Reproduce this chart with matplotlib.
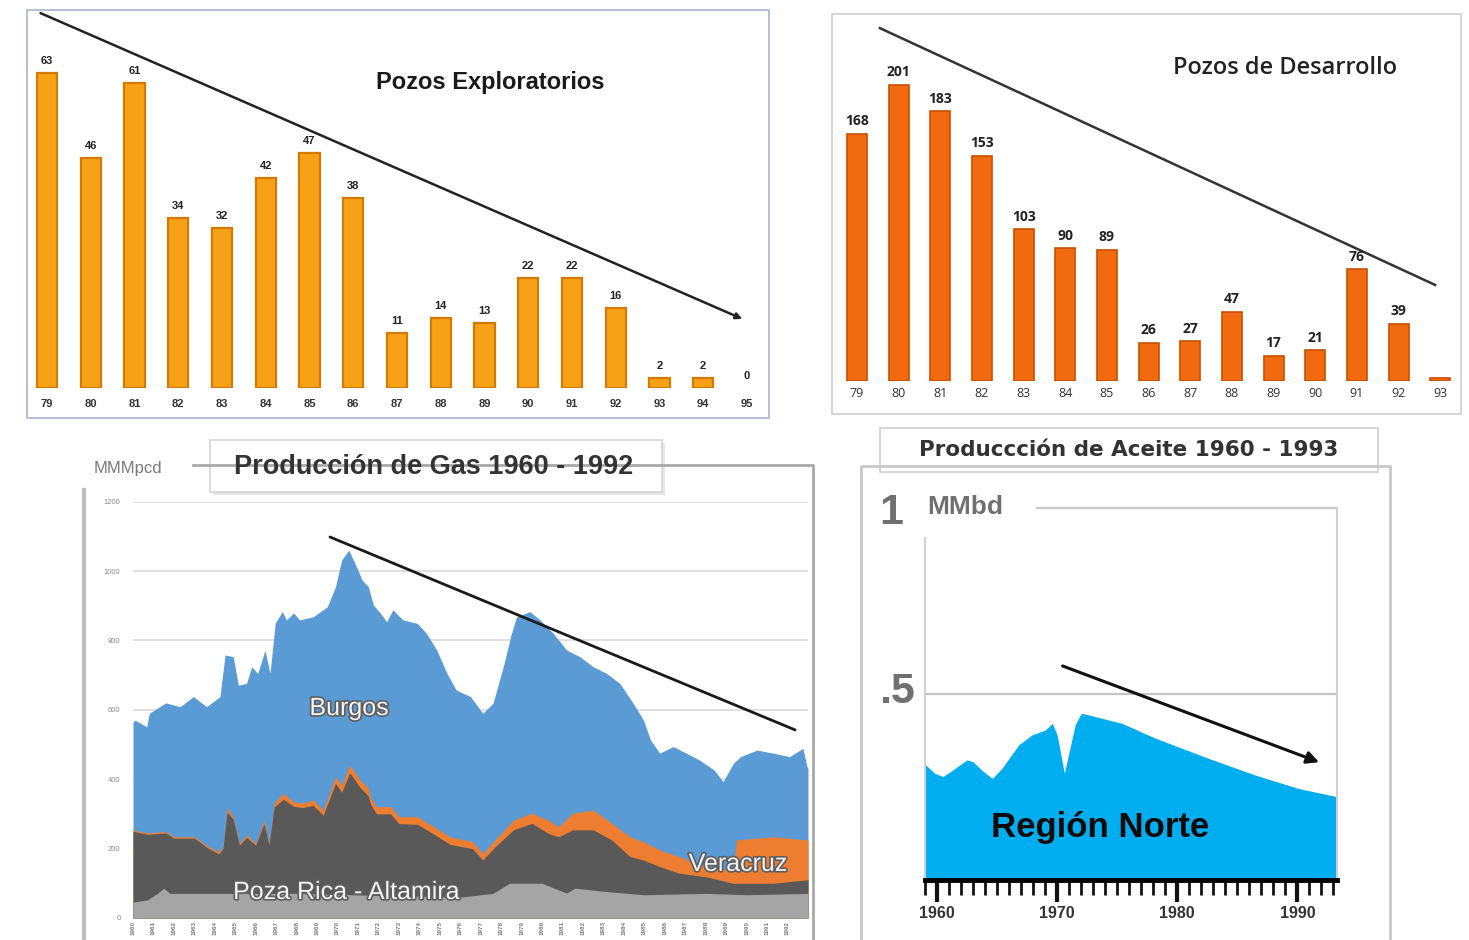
import matplotlib
matplotlib.use("Agg")
import matplotlib.pyplot as plt
import matplotlib.patheffects as pe
from matplotlib.patches import Rectangle
from matplotlib.lines import Line2D

plt.rcParams['font.family'] = ['Liberation Sans', 'DejaVu Sans']

# exploratory wells per year
expl_years = ['79', '80', '81', '82', '83', '84', '85', '86', '87', '88', '89',
              '90', '91', '92', '93', '94', '95']
expl_wells = [63, 46, 61, 34, 32, 42, 47, 38, 11, 14, 13, 22, 22, 16, 2, 2, 0]

# development wells per year (last year has no printed value)
dev_years = ['79', '80', '81', '82', '83', '84', '85', '86', '87', '88', '89',
             '90', '91', '92', '93']
dev_wells = [168, 201, 183, 153, 103, 90, 89, 26, 27, 47, 17, 21, 76, 39, 2]

# gas production, MMMpcd -- stacked boundaries (top of each band)
burgos_yr = [1960.0, 1960.1, 1960.67, 1960.8, 1961.2, 1961.6, 1962.3, 1962.95, 1963.6,
             1964.25, 1964.5, 1964.9, 1965.15, 1965.55, 1965.8, 1966.1, 1966.45,
             1966.7, 1966.95, 1967.3, 1967.5, 1967.85, 1968.15, 1968.8, 1969.5,
             1969.9, 1970.2, 1970.55, 1970.85, 1971.2, 1971.5, 1971.75, 1972.1,
             1972.4, 1972.7, 1973.2, 1973.9, 1974.35, 1974.85, 1975.35, 1975.8,
             1976.5, 1977.1, 1977.6, 1978.1, 1978.5, 1978.75, 1979.4, 1979.9,
             1980.55, 1981.2, 1981.85, 1982.5, 1983.15, 1983.8, 1984.45, 1984.95,
             1985.3, 1985.75, 1986.4, 1987.05, 1987.7, 1988.4, 1988.85, 1989.35,
             1989.7, 1990.5, 1991.3, 1992.1, 1992.75, 1992.95, 1993.0]
burgos_top = [565, 570, 551, 590, 605, 620, 609, 638, 609,
              638, 758, 753, 671, 676, 724, 705, 772,
              705, 850, 883, 859, 879, 859, 868, 897,
              955, 1032, 1060, 1022, 974, 955, 902, 878,
              854, 888, 859, 849, 820, 772, 705, 657,
              638, 590, 619, 724, 820, 868, 883, 859,
              820, 772, 753, 724, 705, 676, 619, 571,
              513, 475, 494, 475, 455, 427, 393, 446,
              465, 484, 475, 465, 489, 436, 430]

veracruz_yr = [1960.0, 1960.7, 1961.6, 1962.0, 1963.0, 1963.7, 1964.2, 1964.4, 1964.6,
               1964.9, 1965.2, 1965.55, 1966.0, 1966.4, 1966.65, 1966.9, 1967.35,
               1967.85, 1968.3, 1968.8, 1969.3, 1969.9, 1970.2, 1970.6, 1971.1,
               1971.5, 1971.6, 1971.9, 1972.6, 1973.0, 1973.9, 1974.7, 1975.5,
               1976.6, 1977.1, 1977.7, 1978.6, 1979.5, 1980.3, 1980.8, 1981.5,
               1982.5, 1983.4, 1984.3, 1984.95, 1985.75, 1986.7, 1988.0, 1989.35,
               1989.5, 1991.3, 1992.95, 1993.0]
veracruz_top = [254, 245, 249, 234, 234, 205, 191, 205, 316,
                292, 215, 239, 215, 282, 215, 331, 359,
                335, 331, 340, 311, 407, 383, 441, 398,
                374, 350, 321, 321, 292, 292, 263, 234,
                220, 186, 225, 282, 302, 282, 263, 302,
                311, 273, 234, 220, 196, 177, 148, 138,
                225, 234, 225, 225]

pozarica_yr = [1960.0, 1960.7, 1961.6, 1962.0, 1963.0, 1963.7, 1964.2, 1964.4, 1964.6,
               1964.9, 1965.2, 1965.55, 1966.0, 1966.4, 1966.65, 1966.9, 1967.35,
               1967.85, 1968.3, 1968.8, 1969.3, 1969.9, 1970.2, 1970.6, 1971.1,
               1971.5, 1971.6, 1971.9, 1972.6, 1973.0, 1973.9, 1974.7, 1975.5,
               1976.6, 1977.1, 1977.7, 1978.6, 1979.5, 1980.3, 1980.8, 1981.5,
               1982.5, 1983.4, 1984.3, 1984.95, 1985.75, 1986.7, 1988.0, 1989.35,
               1991.3, 1992.95, 1993.0]
pozarica_top = [250, 241, 245, 230, 230, 200, 185, 200, 305,
                285, 210, 232, 210, 272, 210, 320, 342,
                322, 318, 325, 296, 388, 362, 418, 376,
                352, 330, 300, 300, 272, 270, 242, 212,
                200, 167, 205, 254, 273, 244, 234, 254,
                254, 225, 177, 167, 148, 129, 119, 100,
                100, 110, 110]

otros_yr = [1960.0, 1960.7, 1961.2, 1961.5, 1961.8, 1964.0, 1968.0, 1972.0, 1976.0,
            1977.6, 1978.4, 1980.0, 1980.8, 1981.2, 1981.6, 1983.0, 1985.0, 1988.0,
            1990.0, 1993.0]
otros_top = [46, 52, 71, 86, 71, 71, 71, 65, 60,
             71, 100, 100, 81, 72, 86, 77, 67, 71,
             67, 71]

gas_ticks = list(range(1960, 1993))
gas_yticks = [0, 200, 400, 600, 800, 1000, 1200]

# oil production, Region Norte, MMbd
oil_yr = [1958.9, 1959.8, 1960.5, 1961.5, 1962.5, 1963.0, 1963.7, 1964.6, 1965.4,
          1966.8, 1967.9, 1969.0, 1969.6, 1970.0, 1970.6, 1971.5, 1972.0, 1972.6,
          1975.4, 1978.2, 1982.6, 1986.5, 1990.1, 1993.3]
oil_mmbd = [0.314, 0.287, 0.278, 0.300, 0.323, 0.318, 0.296, 0.273, 0.300,
            0.363, 0.390, 0.403, 0.421, 0.390, 0.287, 0.417, 0.448, 0.444,
            0.421, 0.381, 0.327, 0.282, 0.246, 0.224]
oil_labels = [1960, 1970, 1980, 1990]

W, H = 1469, 940
fig = plt.figure(figsize=(W / 100, H / 100), dpi=100)


def box(l, t, r, b):
    return [l / W, 1 - b / H, (r - l) / W, (b - t) / H]


def fpt(x, y):
    return x / W, 1 - y / H


def rect(l, t, r, b, **kw):
    fig.add_artist(Rectangle((l / W, 1 - b / H), (r - l) / W, (b - t) / H,
                             transform=fig.transFigure, **kw))


def line(xs, ys, **kw):
    fig.add_artist(Line2D([x / W for x in xs], [1 - y / H for y in ys],
                          transform=fig.transFigure, **kw))


# ---------- exploratory wells ----------
rect(27, 10, 769, 418, fill=False, edgecolor='#AFBAD0', lw=1.3)
ax1 = fig.add_axes(box(27, 10, 769, 388))
ax1.set_facecolor('none')
ax1.bar(range(len(expl_wells)), expl_wells, width=0.46, color='#F7A116',
        edgecolor='#D47A04', lw=[1.6 if v else 0 for v in expl_wells])
for i, v in enumerate(expl_wells):
    ax1.annotate(str(v), (i, v), xytext=(0, 5), textcoords='offset points',
                 ha='center', va='bottom', fontsize=8, fontweight='bold', color='#222')
ax1.set_xlim(-0.457, 16.503)
ax1.set_ylim(0, 75.6)
ax1.set_xticks(range(len(expl_years)), expl_years, fontsize=8, fontweight='bold', color='#333')
ax1.set_yticks([])
ax1.tick_params(length=0, pad=8)
for s in ax1.spines.values():
    s.set_visible(False)
ax1.annotate('', xy=(15.95, 13.6), xytext=(-0.206, 75.2),
             arrowprops=dict(arrowstyle='-|>', color='#222', lw=1.8, mutation_scale=9),
             annotation_clip=False)
fig.text(*fpt(490, 82), 'Pozos Exploratorios', ha='center', va='center',
         fontsize=17, fontweight='bold', color='#1a1a1a')

# ---------- development wells ----------
rect(832, 14, 1461, 414, fill=False, edgecolor='#D2D2D2', lw=1.3)
ax2 = fig.add_axes(box(832, 14, 1461, 381))
ax2.set_facecolor('none')
ax2.bar(range(len(dev_wells)), dev_wells, width=0.48, color='#F26A0F',
        edgecolor='#C84F00', lw=1.2)
for i, v in enumerate(dev_wells[:-1]):
    ax2.annotate(str(v), (i, v), xytext=(0, 4), textcoords='offset points',
                 ha='center', va='bottom', fontsize=10, fontweight='bold',
                 color='#222', family='Open Sans')
ax2.set_xlim(-0.6, 14.5)
ax2.set_ylim(0, 249.2)
ax2.set_xticks(range(len(dev_years)), dev_years, fontsize=9, color='#333', family='Open Sans')
ax2.set_yticks([])
ax2.tick_params(length=0, pad=4)
for s in ax2.spines.values():
    s.set_visible(False)
ax2.plot([0.55, 13.88], [239.6, 65.2], color='#333', lw=1.8, clip_on=False)
fig.text(*fpt(1285, 68), 'Pozos de Desarrollo', ha='center', va='center',
         fontsize=17, fontweight='semibold', color='#222', family='Open Sans')

# ---------- gas production ----------
line([84, 84], [490, 940], color='#BDBDBD', lw=3)
line([193, 813, 813], [465, 465, 940], color='#A9A9A9', lw=2)
fig.text(*fpt(128, 469), 'MMMpcd', ha='center', va='center', fontsize=12, color='#7a7a7a')
rect(213, 443, 665, 495, facecolor='#E6E6E6', edgecolor='none')
rect(210, 440, 662, 492, facecolor='white', edgecolor='#D5D5D5', lw=1.2)
fig.text(*fpt(434, 467), 'Producción de Gas 1960 - 1992', ha='center', va='center',
         fontsize=19.5, fontweight='bold', color='#333')

ax3 = fig.add_axes(box(133, 501.6, 808, 918))
ax3.fill_between(burgos_yr, burgos_top, color='#5B9BD5', lw=0)
ax3.fill_between(veracruz_yr, veracruz_top, color='#ED7D31', lw=0)
ax3.fill_between(pozarica_yr, pozarica_top, color='#595959', lw=0)
ax3.fill_between(otros_yr, otros_top, color='#A5A5A5', lw=0)
ax3.set_xlim(1960, 1993)
ax3.set_ylim(0, 1200)
ax3.set_yticks(gas_yticks, [str(v) for v in gas_yticks], fontsize=5.5, color='#8a8a8a')
ax3.set_xticks(gas_ticks, [str(y) for y in gas_ticks], rotation=90, fontsize=4.5,
               color='#7a7a7a', fontweight='bold')
ax3.tick_params(length=0)
ax3.tick_params(axis='y', pad=9)
ax3.tick_params(axis='x', pad=2)
ax3.grid(axis='y', color='#DADADA', lw=1.2)
ax3.set_axisbelow(True)
for s in ax3.spines.values():
    s.set_visible(False)
ax3.plot([1969.63, 1992.37], [1098, 542], color='#1a1a1a', lw=2, solid_capstyle='round')
shadow = [pe.withStroke(linewidth=2.4, foreground='#5e5e5e')]
ax3.text(1970.56, 605, 'Burgos', ha='center', va='center', fontsize=18,
         color='#F4F4F4', path_effects=shadow)
ax3.text(1989.58, 156, 'Veracruz', ha='center', va='center', fontsize=18,
         color='#F4F4F4', path_effects=shadow)
ax3.text(1970.42, 75, 'Poza Rica - Altamira', ha='center', va='center', fontsize=18,
         color='#F4F4F4', path_effects=shadow)

# ---------- oil production ----------
line([861, 861, 1390, 1390], [940, 466, 466, 940], color='#C9C9C9', lw=2)
rect(880, 428, 1378, 472, facecolor='white', edgecolor='#D0D0D0', lw=1.2)
fig.text(*fpt(1129, 450), 'Produccción de Aceite 1960 - 1993', ha='center', va='center',
         fontsize=15.5, fontweight='bold', color='#333', family='DejaVu Sans')

ax4 = fig.add_axes(box(925, 508, 1337, 880))
ax4.fill_between(oil_yr, oil_mmbd, color='#00AEEF', lw=0)
ax4.set_xlim(1959, 1993.3)
ax4.set_ylim(0, 1.0)
ax4.axhline(0.5, color='#C4C4C4', lw=1.6, zorder=0)
ax4.hlines(1.0, 1968.2, 1993.3, color='#C8C8C8', lw=1.6, clip_on=False)
ax4.set_yticks([])
ax4.set_xticks(oil_labels, [str(y) for y in oil_labels], fontsize=11.5,
               fontweight='bold', color='#333')
ax4.set_xticks(range(1959, 1994), minor=True)
ax4.tick_params(axis='x', which='major', direction='out', length=16, width=3, color='#111', pad=3)
ax4.tick_params(axis='x', which='minor', direction='out', length=11, width=2, color='#111')
ax4.spines['top'].set_visible(False)
ax4.spines['bottom'].set_linewidth(3.5)
ax4.spines['left'].set_color('#D0D0D0')
ax4.spines['left'].set_linewidth(1.5)
ax4.spines['left'].set_bounds(0, 0.92)
ax4.spines['right'].set_color('#D0D0D0')
ax4.spines['right'].set_linewidth(1.5)
ax4.annotate('', xy=(1992.03, 0.314), xytext=(1970.24, 0.578),
             arrowprops=dict(arrowstyle='-|>', color='#111', lw=2.2, mutation_scale=18))
ax4.text(1973.6, 0.14, 'Región Norte', ha='center', va='center', fontsize=25,
         fontweight='bold', color='#0a0a0a')
fig.text(*fpt(891, 513), '1', ha='center', va='center', fontsize=31,
         fontweight='bold', color='#707070')
fig.text(*fpt(965, 507), 'MMbd', ha='center', va='center', fontsize=19,
         fontweight='bold', color='#707070')
fig.text(*fpt(897, 692), '.5', ha='center', va='center', fontsize=31,
         fontweight='bold', color='#707070')

fig.savefig('out.png', dpi=100, facecolor='white')
